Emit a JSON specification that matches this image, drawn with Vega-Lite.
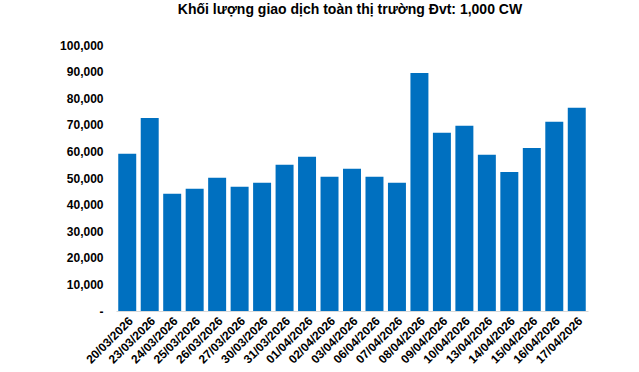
{
  "$schema": "https://vega.github.io/schema/vega-lite/v6.json",
  "width": 472,
  "height": 266,
  "autosize": "none",
  "padding": {"left": 116, "top": 45, "right": 51, "bottom": 61},
  "background": "white",
  "title": {
    "text": "Khối lượng giao dịch toàn thị trường Đvt: 1,000 CW",
    "font": "Liberation Sans",
    "fontSize": 14,
    "fontWeight": "bold",
    "color": "#000000",
    "anchor": "middle",
    "dx": -2,
    "offset": 22
  },
  "config": {
    "view": {"stroke": null},
    "axis": {"labelFont": "Liberation Sans", "labelFontSize": 12, "labelFontWeight": "bold", "labelColor": "#000000", "grid": false, "title": null}
  },
  "data": {
    "values": [
      {"date": "20/03/2026", "value": 59100},
      {"date": "23/03/2026", "value": 72600},
      {"date": "24/03/2026", "value": 44100},
      {"date": "25/03/2026", "value": 46000},
      {"date": "26/03/2026", "value": 50100},
      {"date": "27/03/2026", "value": 46700},
      {"date": "30/03/2026", "value": 48200},
      {"date": "31/03/2026", "value": 55000},
      {"date": "01/04/2026", "value": 58000},
      {"date": "02/04/2026", "value": 50500},
      {"date": "03/04/2026", "value": 53500},
      {"date": "06/04/2026", "value": 50500},
      {"date": "07/04/2026", "value": 48200},
      {"date": "08/04/2026", "value": 89500},
      {"date": "09/04/2026", "value": 67000},
      {"date": "10/04/2026", "value": 69600},
      {"date": "13/04/2026", "value": 58700},
      {"date": "14/04/2026", "value": 52300},
      {"date": "15/04/2026", "value": 61300},
      {"date": "16/04/2026", "value": 71100},
      {"date": "17/04/2026", "value": 76400}
    ]
  },
  "mark": {"type": "bar", "color": "#0070C0"},
  "encoding": {
    "x": {
      "field": "date",
      "type": "nominal",
      "sort": null,
      "scale": {"paddingInner": 0.2, "paddingOuter": 0.1},
      "axis": {"labelAngle": -45, "ticks": false, "domainColor": "#D9D9D9", "domainWidth": 1, "labelPadding": 4}
    },
    "y": {
      "field": "value",
      "type": "quantitative",
      "scale": {"domain": [0, 100000], "nice": false},
      "axis": {
        "values": [0, 10000, 20000, 30000, 40000, 50000, 60000, 70000, 80000, 90000, 100000],
        "domain": false,
        "ticks": false,
        "labelPadding": 13,
        "labelExpr": "datum.value == 0 ? '-' : format(datum.value, ',')",
        "encode": {"labels": {"update": {"dx": {"signal": "datum.value == 0 ? -8 : 0"}}}}
      }
    }
  }
}
